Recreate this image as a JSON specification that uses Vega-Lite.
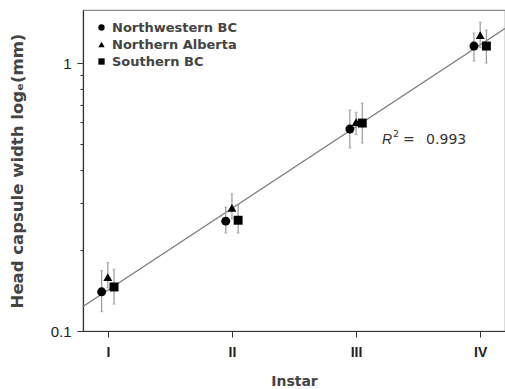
{
  "$schema": "https://vega.github.io/schema/vega-lite/v6.json",
  "width": 422,
  "height": 321,
  "autosize": {"type": "none"},
  "padding": {"left": 83, "top": 10, "right": 0, "bottom": 58},
  "config": {
    "view": {"stroke": "#8a8a8a", "strokeWidth": 1.2},
    "font": "Liberation Sans",
    "axis": {"grid": false, "domainColor": "#333", "domainWidth": 1.2, "tickColor": "#333", "labelColor": "#222", "titleColor": "#444", "labelFont": "Liberation Sans", "titleFont": "DejaVu Sans"}
  },
  "datasets": {
    "fit": [{"x": 0.8, "y": 0.1235}, {"x": 4.2, "y": 1.345}],
    "pts": [
      {"group": "Northwestern BC", "x": 0.95, "mean": 0.140, "lo": 0.118, "hi": 0.168},
      {"group": "Northwestern BC", "x": 1.95, "mean": 0.257, "lo": 0.232, "hi": 0.290},
      {"group": "Northwestern BC", "x": 2.95, "mean": 0.567, "lo": 0.482, "hi": 0.668},
      {"group": "Northwestern BC", "x": 3.95, "mean": 1.157, "lo": 1.017, "hi": 1.294},
      {"group": "Northern Alberta", "x": 1.0, "mean": 0.159, "lo": 0.145, "hi": 0.180},
      {"group": "Northern Alberta", "x": 2.0, "mean": 0.288, "lo": 0.262, "hi": 0.325},
      {"group": "Northern Alberta", "x": 3.0, "mean": 0.602, "lo": 0.540, "hi": 0.655},
      {"group": "Northern Alberta", "x": 4.0, "mean": 1.272, "lo": 1.140, "hi": 1.420},
      {"group": "Southern BC", "x": 1.05, "mean": 0.146, "lo": 0.126, "hi": 0.170},
      {"group": "Southern BC", "x": 2.05, "mean": 0.259, "lo": 0.232, "hi": 0.295},
      {"group": "Southern BC", "x": 3.05, "mean": 0.597, "lo": 0.503, "hi": 0.709},
      {"group": "Southern BC", "x": 4.05, "mean": 1.157, "lo": 1.000, "hi": 1.328}
    ],
    "note": [{"x": 3.21, "y": 0.516, "r": "R", "sup": "2", "eq": "=", "val": "0.993"}]
  },
  "layer": [
    {
      "data": {"name": "fit"},
      "mark": {"type": "line", "color": "#7a7a7a", "strokeWidth": 1.3},
      "encoding": {
        "x": {"field": "x", "type": "quantitative", "scale": {"domain": [0.8, 4.2], "nice": false, "zero": false},
          "axis": {"values": [1, 2, 3, 4], "labelExpr": "['','I','II','III','IV'][datum.value]", "tickSize": 6, "labelFontSize": 14, "labelFontWeight": "bold", "labelPadding": 8, "title": "Instar", "titleFontSize": 14, "titleFontWeight": "bold", "titlePadding": 15}},
        "y": {"field": "y", "type": "quantitative", "scale": {"type": "log", "domain": [0.1, 1.577], "nice": false},
          "axis": {"values": [0.1, 0.2, 0.3, 0.4, 0.5, 0.6, 0.7, 0.8, 0.9, 1],
            "labelExpr": "datum.value == 1 || datum.value == 0.1 ? datum.label : ''",
            "tickSize": {"condition": {"test": "datum.value == 1 || datum.value == 0.1", "value": 6}, "value": 3},
            "labelFontSize": 15, "labelPadding": 6, "title": "Head capsule width logₑ(mm)", "titleFontSize": 16.5, "titleFontWeight": "bold", "titlePadding": 25}}
      }
    },
    {
      "data": {"name": "pts"},
      "mark": {"type": "rule", "color": "#999", "strokeWidth": 1.2},
      "encoding": {
        "x": {"field": "x", "type": "quantitative"},
        "y": {"field": "lo", "type": "quantitative"},
        "y2": {"field": "hi"}
      }
    },
    {
      "data": {"name": "pts"},
      "mark": {"type": "tick", "orient": "horizontal", "color": "#999", "size": 3, "thickness": 1},
      "encoding": {
        "x": {"field": "x", "type": "quantitative"},
        "y": {"field": "lo", "type": "quantitative"}
      }
    },
    {
      "data": {"name": "pts"},
      "mark": {"type": "tick", "orient": "horizontal", "color": "#999", "size": 3, "thickness": 1},
      "encoding": {
        "x": {"field": "x", "type": "quantitative"},
        "y": {"field": "hi", "type": "quantitative"}
      }
    },
    {
      "data": {"name": "pts"},
      "mark": {"type": "point", "filled": true, "opacity": 1, "color": "black", "size": 80},
      "encoding": {
        "x": {"field": "x", "type": "quantitative"},
        "y": {"field": "mean", "type": "quantitative"},
        "shape": {"field": "group", "type": "nominal",
          "scale": {"domain": ["Northwestern BC", "Northern Alberta", "Southern BC"], "range": ["circle", "triangle-up", "square"]},
          "legend": {"title": null, "orient": "none", "legendX": 12, "legendY": 11, "symbolSize": 40, "symbolFillColor": "black", "symbolStrokeColor": "black", "labelFontSize": 13, "labelFont": "DejaVu Sans", "labelFontWeight": "bold", "labelColor": "#444", "rowPadding": 3, "labelOffset": 4, "padding": 0}}
      }
    },
    {
      "data": {"name": "note"},
      "mark": {"type": "text", "fontStyle": "italic", "fontSize": 14, "font": "Liberation Sans", "align": "left", "baseline": "middle", "color": "#333"},
      "encoding": {
        "x": {"field": "x", "type": "quantitative"},
        "y": {"field": "y", "type": "quantitative"},
        "text": {"field": "r"}
      }
    },
    {
      "data": {"name": "note"},
      "mark": {"type": "text", "fontSize": 9.5, "font": "DejaVu Sans", "align": "left", "baseline": "middle", "dx": 11, "dy": -6, "color": "#333"},
      "encoding": {
        "x": {"field": "x", "type": "quantitative"},
        "y": {"field": "y", "type": "quantitative"},
        "text": {"field": "sup"}
      }
    },
    {
      "data": {"name": "note"},
      "mark": {"type": "text", "fontSize": 14, "font": "DejaVu Sans", "align": "left", "baseline": "middle", "dx": 21, "color": "#333"},
      "encoding": {
        "x": {"field": "x", "type": "quantitative"},
        "y": {"field": "y", "type": "quantitative"},
        "text": {"field": "eq"}
      }
    },
    {
      "data": {"name": "note"},
      "mark": {"type": "text", "fontSize": 14, "font": "DejaVu Sans", "align": "left", "baseline": "middle", "dx": 44, "color": "#333"},
      "encoding": {
        "x": {"field": "x", "type": "quantitative"},
        "y": {"field": "y", "type": "quantitative"},
        "text": {"field": "val"}
      }
    }
  ]
}
